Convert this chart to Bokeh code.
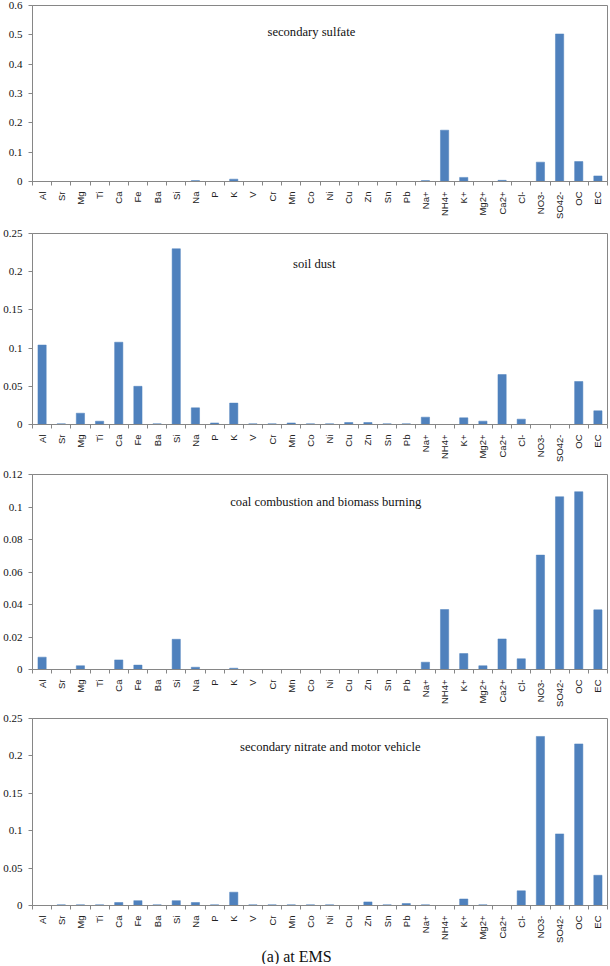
import math
from bokeh.plotting import figure
from bokeh.layouts import column
from bokeh.models import (Range1d, FixedTicker, CustomJSTickFormatter, Label, Title, ColumnDataSource)
from bokeh.embed import file_html
from bokeh.resources import INLINE

species = ["Al", "Sr", "Mg", "Ti", "Ca", "Fe", "Ba", "Si", "Na", "P", "K", "V", "Cr", "Mn",
           "Co", "Ni", "Cu", "Zn", "Sn", "Pb", "Na+", "NH4+", "K+", "Mg2+", "Ca2+", "Cl-",
           "NO3-", "SO42-", "OC", "EC"]

secondary_sulfate = [0, 0, 0, 0, 0, 0, 0, 0, 0.003, 0, 0.008, 0, 0, 0,
                     0, 0, 0, 0, 0, 0, 0.003, 0.175, 0.014, 0, 0.004, 0,
                     0.066, 0.503, 0.068, 0.019]
soil_dust = [0.104, 0.001, 0.0148, 0.0043, 0.1077, 0.050, 0.001, 0.230, 0.0218, 0.002, 0.028, 0.001, 0.001, 0.002,
             0.001, 0.001, 0.0026, 0.0026, 0.001, 0.001, 0.0096, 0, 0.0087, 0.0044, 0.0654, 0.007,
             0, 0, 0.0563, 0.0179]
coal_biomass = [0.0076, 0, 0.0023, 0, 0.0059, 0.0027, 0, 0.0186, 0.0014, 0, 0.0008, 0, 0, 0,
                0, 0, 0, 0, 0, 0, 0.0045, 0.0369, 0.0098, 0.0023, 0.0188, 0.0066,
                0.0704, 0.1063, 0.1094, 0.0367]
nitrate_vehicle = [0, 0.001, 0.001, 0.001, 0.004, 0.0065, 0.001, 0.0065, 0.004, 0.001, 0.0178, 0.001, 0.001, 0.001,
                   0.001, 0.001, 0, 0.0048, 0.001, 0.0026, 0.001, 0, 0.0087, 0.001, 0, 0.0196,
                   0.226, 0.0957, 0.216, 0.0404]

titles = ["secondary sulfate", "soil dust", "coal combustion and biomass burning",
          "secondary nitrate  and  motor vehicle"]
y_ticks = [[0, 0.1, 0.2, 0.3, 0.4, 0.5, 0.6],
           [0, 0.05, 0.1, 0.15, 0.2, 0.25],
           [0, 0.02, 0.04, 0.06, 0.08, 0.1, 0.12],
           [0, 0.05, 0.1, 0.15, 0.2, 0.25]]
y_max = [0.6, 0.25, 0.12, 0.25]
series = [secondary_sulfate, soil_dust, coal_biomass, nitrate_vehicle]
caption = "(a) at EMS"

# layout per panel: (height, min_border_top, min_border_bottom, title x (data), title y frac)
layout = [(226, 5, 45, 14.55, 0.85),
          (241, 7, 43, 14.7, 0.84),
          (244, 7, 42, 15.3, 0.857),
          (253, 7, 55, 15.7, 0.845)]

BLUE = "#4F81BD"
GRAY = "#868686"
n = len(species)
centers = [i + 0.5 for i in range(n)]
bounds = list(range(n + 1))

figs = []
for k in range(4):
    h, mbt, mbb, tx, ty = layout[k]
    p = figure(width=609, height=h, output_backend="svg", toolbar_location=None,
               x_range=Range1d(0, n), y_range=Range1d(0, y_max[k]),
               min_border_left=32, min_border_right=2, min_border_top=mbt, min_border_bottom=mbb)
    src = ColumnDataSource(dict(x=centers, top=series[k], name=species))
    p.vbar(x="x", top="top", bottom=0, width=0.43, source=src, fill_color=BLUE, line_color=BLUE,
           line_width=0.5)
    p.xgrid.visible = False
    p.ygrid.visible = False
    p.outline_line_color = GRAY
    p.outline_line_width = 1
    p.background_fill_color = "white"
    p.border_fill_color = "white"

    xa = p.xaxis[0]
    xa.ticker = FixedTicker(ticks=centers, minor_ticks=bounds)
    xa.major_label_overrides = {c: s for c, s in zip(centers, species)}
    xa.major_label_orientation = math.pi / 2
    xa.major_tick_line_color = None
    xa.minor_tick_line_color = GRAY
    xa.minor_tick_out = 4
    xa.minor_tick_in = 0
    xa.axis_line_color = GRAY
    xa.major_label_standoff = 4
    xa.major_label_text_font = "Liberation Sans"
    xa.major_label_text_font_size = "9.5px"
    xa.major_label_text_color = "#222222"

    ya = p.yaxis[0]
    ya.ticker = FixedTicker(ticks=y_ticks[k], minor_ticks=[])
    ya.formatter = CustomJSTickFormatter(code="return Number(tick.toFixed(4)).toString();")
    ya.axis_line_color = GRAY
    ya.major_tick_line_color = GRAY
    ya.major_tick_out = 4
    ya.major_tick_in = 0
    ya.minor_tick_line_color = None
    ya.major_label_standoff = 6
    ya.major_label_text_font = "Liberation Serif"
    ya.major_label_text_font_size = "11px"
    ya.major_label_text_color = "#111111"

    lab = Label(x=tx, y=ty * y_max[k], text=titles[k], text_align="center", text_baseline="middle",
                text_font="Liberation Serif", text_font_size="12.6px", text_color="#111111")
    p.add_layout(lab)
    figs.append(p)

cap = Title(text=caption, align="left", offset=229, text_font="Liberation Serif",
            text_font_size="16px", text_font_style="normal", text_color="#111111", standoff=0)
figs[3].add_layout(cap, "below")

layout_col = column(*figs, spacing=0)
open("out.html", "w").write(file_html(layout_col, INLINE))
